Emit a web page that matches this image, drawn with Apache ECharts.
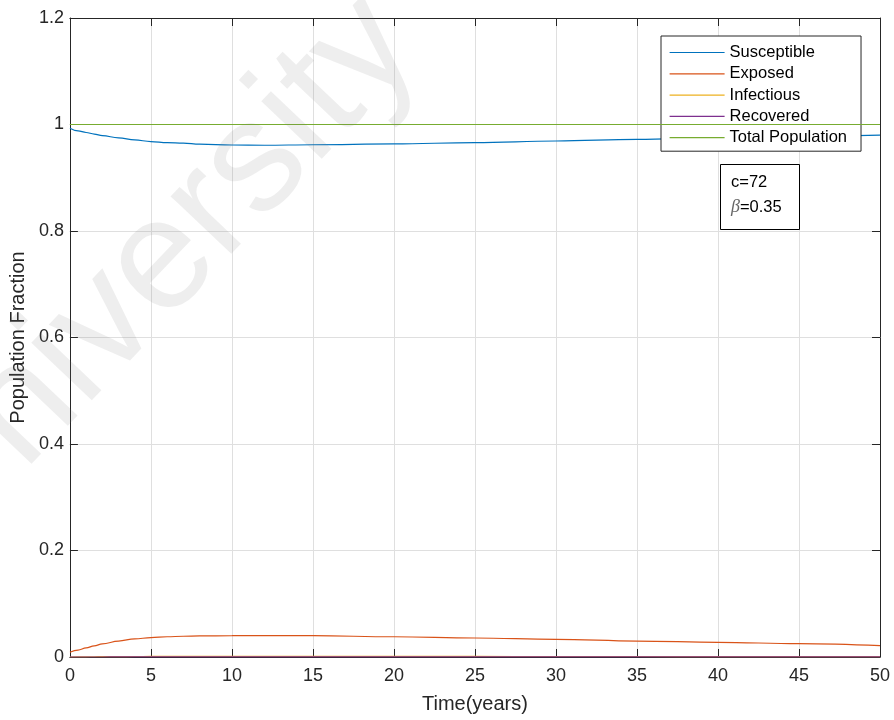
<!DOCTYPE html>
<html>
<head>
<meta charset="utf-8">
<title>SEIR population fractions</title>
<script src="https://cdn.jsdelivr.net/npm/echarts@6/dist/echarts.min.js"></script>
<style>
  html, body { margin: 0; padding: 0; background: #fff; }
  #chart { width: 894px; height: 720px; }
</style>
</head>
<body>
<div id="chart"></div>
<script>
// Time samples (years)
const timeYears = [0, 0.5, 1, 1.5, 2, 3, 4, 5, 6, 7, 8, 10, 12, 15, 20, 25, 30, 35, 40, 45, 50];

// Compartment fractions at each time sample
const susceptible = [0.993, 0.988, 0.985, 0.982, 0.979, 0.975, 0.971, 0.968, 0.966, 0.965, 0.963, 0.9615, 0.961, 0.962, 0.9635, 0.966, 0.969, 0.972, 0.975, 0.978, 0.980];
const exposed     = [0.009, 0.013, 0.017, 0.021, 0.0245, 0.030, 0.034, 0.0365, 0.038, 0.039, 0.0395, 0.040, 0.0402, 0.040, 0.038, 0.0357, 0.0332, 0.030, 0.0276, 0.025, 0.0212];
const infectious  = [0, 0.0002, 0.0004, 0.0005, 0.0006, 0.0008, 0.0009, 0.001, 0.001, 0.001, 0.001, 0.001, 0.001, 0.001, 0.001, 0.001, 0.0009, 0.0009, 0.0008, 0.0008, 0.0007];
const recovered   = [0, 0, 0, 0, 0, 0.0001, 0.0001, 0.0001, 0.0001, 0.0001, 0.0002, 0.0002, 0.0002, 0.0002, 0.0003, 0.0003, 0.0003, 0.0003, 0.0003, 0.0003, 0.0003];
const totalPop    = [1, 1, 1, 1, 1, 1, 1, 1, 1, 1, 1, 1, 1, 1, 1, 1, 1, 1, 1, 1, 1];

const seriesNames  = ['Susceptible', 'Exposed', 'Infectious', 'Recovered', 'Total Population'];
const seriesValues = [susceptible, exposed, infectious, recovered, totalPop];
const seriesColors = ['#0072BD', '#D95319', '#EDB120', '#7E2F8E', '#77AC30'];

// Axis ticks
const xTicks = { min: 0, max: 50, interval: 5 };
const yTicks = { min: 0, max: 1.2, interval: 0.2 };

// Parameter annotation
const paramLines = ['c=72', '{b|\u03b2}=0.35'];

const axisColor = '#262626';
const font = 'Liberation Sans, Arial, Helvetica, sans-serif';

const chart = echarts.init(document.getElementById('chart'), null, { renderer: 'canvas' });

const series = seriesNames.map((name, i) => ({
  name,
  type: 'line',
  xAxisIndex: 0,
  yAxisIndex: 0,
  data: timeYears.map((t, k) => [t, seriesValues[i][k]]),
  symbol: 'none',
  smooth: 0.4,
  smoothMonotone: 'x',
  lineStyle: { color: seriesColors[i], width: 1.2 },
  itemStyle: { color: seriesColors[i] },
  emphasis: { disabled: true },
  animation: false,
  z: 3 + i
}));

// Top and right axes close the box, ticks pointing inward
const boxAxis = {
  axisLine: { show: true, onZero: false, lineStyle: { color: axisColor, width: 1 } },
  axisTick: { show: true, inside: true, length: 8, lineStyle: { color: axisColor } },
  axisLabel: { show: false },
  splitLine: { show: false }
};

chart.setOption({
  animation: false,
  backgroundColor: '#ffffff',
  grid: { left: 68, right: 14, top: 18, bottom: 63, containLabel: false },
  xAxis: [
    {
      type: 'value',
      min: xTicks.min, max: xTicks.max, interval: xTicks.interval,
      position: 'bottom',
      name: 'Time(years)',
      nameLocation: 'middle',
      nameGap: 37,
      nameTextStyle: { fontFamily: font, fontSize: 20, color: axisColor },
      axisLine: { show: true, onZero: false, lineStyle: { color: axisColor, width: 1 } },
      axisTick: { show: true, inside: true, length: 8, lineStyle: { color: axisColor } },
      axisLabel: { fontFamily: font, fontSize: 18, color: axisColor, margin: 10 },
      splitLine: { show: true, lineStyle: { color: '#dfdfdf', width: 1 } }
    },
    Object.assign({
      type: 'value',
      min: xTicks.min, max: xTicks.max, interval: xTicks.interval,
      position: 'top'
    }, boxAxis)
  ],
  yAxis: [
    {
      type: 'value',
      min: yTicks.min, max: yTicks.max, interval: yTicks.interval,
      position: 'left',
      name: 'Population Fraction',
      nameLocation: 'middle',
      nameGap: 40,
      nameTextStyle: { fontFamily: font, fontSize: 20, color: axisColor },
      axisLine: { show: true, onZero: false, lineStyle: { color: axisColor, width: 1 } },
      axisTick: { show: true, inside: true, length: 8, lineStyle: { color: axisColor } },
      axisLabel: { fontFamily: font, fontSize: 18, color: axisColor, margin: 6 },
      splitLine: { show: true, lineStyle: { color: '#dfdfdf', width: 1 } }
    },
    Object.assign({
      type: 'value',
      min: yTicks.min, max: yTicks.max, interval: yTicks.interval,
      position: 'right'
    }, boxAxis)
  ],
  legend: {
    orient: 'vertical',
    left: 661,
    top: 36,
    padding: [8, 14, 5, 8],
    itemWidth: 55,
    itemHeight: 16,
    itemGap: 4.3,
    backgroundColor: '#ffffff',
    borderColor: axisColor,
    borderWidth: 1,
    borderRadius: 0,
    selectedMode: false,
    itemStyle: { opacity: 0 },
    lineStyle: { width: 1.2 },
    textStyle: { fontFamily: font, fontSize: 16.5, color: '#000', lineHeight: 16 },
    data: seriesNames
  },
  series,
  graphic: [
    {
      type: 'rect',
      z: 100,
      shape: { x: 720.5, y: 164.5, width: 79, height: 65 },
      style: { fill: '#ffffff', stroke: '#000', lineWidth: 1 }
    },
    {
      type: 'text',
      z: 101,
      x: 731, y: 182,
      style: {
        text: paramLines[0],
        font: '16.5px ' + font,
        fill: '#000',
        verticalAlign: 'middle'
      }
    },
    {
      type: 'text',
      z: 101,
      x: 731, y: 207,
      style: {
        text: paramLines[1],
        font: '16.5px ' + font,
        fill: '#000',
        verticalAlign: 'middle',
        rich: {
          b: { fontFamily: 'Liberation Serif, serif', fontStyle: 'italic', fontSize: 18, fill: '#666' }
        }
      }
    },
    {
      // faint diagonal watermark across the upper-left of the plot
      type: 'text',
      x: 392,
      y: 22,
      rotation: 0.81,
      z: 200,
      silent: true,
      style: {
        text: 'University',
        font: '158px ' + font,
        fill: 'rgba(120,120,120,0.13)',
        align: 'right',
        verticalAlign: 'middle'
      }
    }
  ]
});
</script>
</body>
</html>
